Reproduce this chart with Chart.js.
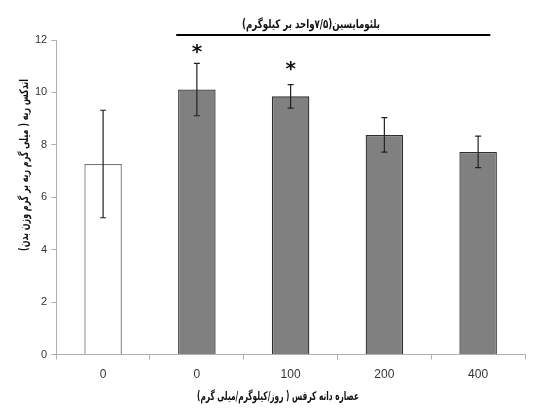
<!DOCTYPE html>
<html>
<head>
<meta charset="utf-8">
<script src="https://cdn.jsdelivr.net/npm/chart.js@4/dist/chart.umd.min.js"></script>
<style>
  html, body { margin: 0; padding: 0; background: #fff; }
  #wrap { width: 534px; height: 408px; }
</style>
</head>
<body>
<div id="wrap"><canvas id="lungChart"></canvas></div>
<script>
const labels = ['0', '0', '100', '200', '400'];
const lungIndex = [7.27, 10.11, 9.85, 8.38, 7.73];
const errors = [2.05, 1.0, 0.45, 0.66, 0.6];
const stars = [null, 11.65, 11.02, null, null];
const yTicks = [0, 2, 4, 6, 8, 10, 12];
const bracketLabel = 'بلئومایسین(۷/۵واحد بر کیلوگرم)';
const bracketFrom = 0.78, bracketTo = 4.13, bracketY = 12.19;
const xTitle = 'عصاره دانه کرفس ( روز/کیلوگرم/میلی گرم)';
const yTitle = 'اندکس ریه ( میلی گرم ریه بر گرم وزن بدن)';

const fills = ['#ffffff', '#808080', '#808080', '#808080', '#808080'];
const borders = ['#777777', '#2e2e2e', '#2e2e2e', '#2e2e2e', '#2e2e2e'];

// persian text squeezed to the width it takes in the original figure
function squeezedText(ctx, text, cx, cy, width, angle) {
    ctx.save();
    ctx.translate(cx, cy);
    ctx.rotate(angle);
    const w = ctx.measureText(text).width;
    ctx.scale(Math.min(1, width / w), 1);
    ctx.fillText(text, 0, 0);
    ctx.restore();
}

const extras = {
    id: 'extras',
    afterDatasetsDraw(chart) {
        const { ctx, scales: { x, y } } = chart;
        ctx.save();
        // error bars
        ctx.strokeStyle = '#222';
        ctx.lineWidth = 1.2;
        lungIndex.forEach((v, i) => {
            const cx = x.getPixelForValue(i);
            const top = y.getPixelForValue(v + errors[i]);
            const bot = y.getPixelForValue(v - errors[i]);
            ctx.beginPath();
            ctx.moveTo(cx, top); ctx.lineTo(cx, bot);
            ctx.moveTo(cx - 3, top); ctx.lineTo(cx + 3, top);
            ctx.moveTo(cx - 3, bot); ctx.lineTo(cx + 3, bot);
            ctx.stroke();
        });
        // asterisks
        ctx.fillStyle = '#111';
        ctx.font = 'bold 20px "DejaVu Sans"';
        ctx.textAlign = 'center';
        ctx.textBaseline = 'middle';
        stars.forEach((s, i) => {
            if (s == null) return;
            ctx.fillText('*', x.getPixelForValue(i), y.getPixelForValue(s) + 4);
        });
        // bleomycin bracket
        const x0 = x.getPixelForValue(bracketFrom);
        const x1 = x.getPixelForValue(bracketTo);
        const by = y.getPixelForValue(bracketY);
        ctx.strokeStyle = '#000';
        ctx.lineWidth = 2;
        ctx.beginPath();
        ctx.moveTo(x0, by); ctx.lineTo(x1, by);
        ctx.stroke();
        ctx.font = 'bold 12px "DejaVu Sans"';
        ctx.direction = 'rtl';
        squeezedText(ctx, bracketLabel, 311, by - 10, 138, 0);
        squeezedText(ctx, xTitle, 278, 397, 162, 0);
        squeezedText(ctx, yTitle, 25, 165, 172, -Math.PI / 2);
        ctx.restore();
    }
};

new Chart(document.getElementById('lungChart'), {
    type: 'bar',
    data: {
        labels,
        datasets: [{
            data: lungIndex,
            backgroundColor: fills,
            borderColor: borders,
            borderWidth: 1.3,
            barPercentage: 0.4,
            categoryPercentage: 1
        }]
    },
    options: {
        responsive: true,
        maintainAspectRatio: false,
        animation: false,
        layout: { padding: { top: 40, right: 9, left: 31, bottom: 18 } },
        plugins: {
            legend: { display: false },
            tooltip: { enabled: false }
        },
        scales: {
            x: {
                grid: {
                    offset: true,
                    drawOnChartArea: false,
                    drawTicks: true,
                    tickLength: 5,
                    color: '#b0b0b0'
                },
                border: { color: '#b0b0b0' },
                ticks: { color: '#333', font: { family: 'Liberation Sans', size: 12 }, padding: 8 }
            },
            y: {
                min: 0,
                max: 12,
                afterBuildTicks: axis => { axis.ticks = yTicks.map(value => ({ value })); },
                grid: {
                    drawOnChartArea: false,
                    tickLength: 5,
                    color: '#b0b0b0'
                },
                border: { color: '#b0b0b0' },
                ticks: { color: '#333', font: { family: 'Liberation Sans', size: 11 }, padding: 4 }
            }
        }
    },
    plugins: [extras]
});
</script>
</body>
</html>
